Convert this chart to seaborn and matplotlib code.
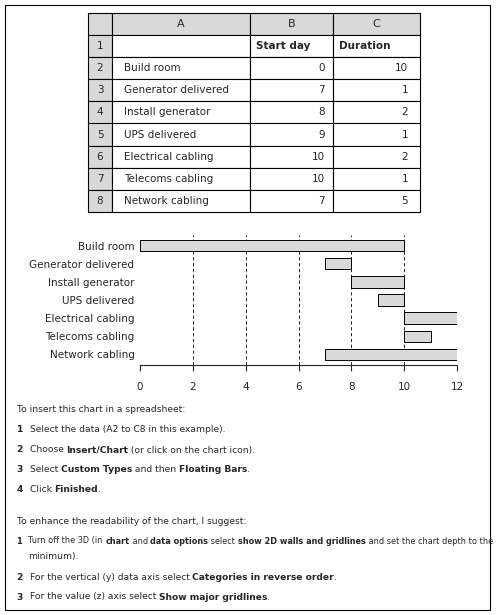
import matplotlib
matplotlib.use("Agg")
import matplotlib.pyplot as plt
import seaborn as sns
from matplotlib.patches import Rectangle

tasks = ["Build room", "Generator delivered", "Install generator", "UPS delivered",
         "Electrical cabling", "Telecoms cabling", "Network cabling"]
start = [0, 7, 8, 9, 10, 10, 7]
duration = [10, 1, 2, 1, 2, 1, 5]
col_headers = ["A", "B", "C"]
header_row = ["", "Start day", "Duration"]
xticks = [0, 2, 4, 6, 8, 10, 12]

sns.set_style("white")
plt.rcParams['font.family'] = ['DejaVu Sans']
W, H = 500, 615
fig = plt.figure(figsize=(5, 6.15), dpi=100)

def fx(px): return px / W
def fy(py): return 1 - py / H

fig.patches.append(Rectangle((fx(5), fy(610)), fx(490) - fx(5), fy(5) - fy(610),
                             transform=fig.transFigure, fill=False, lw=0.8, ec="black"))

# table: header + 8 rows
cols = [88, 112, 250, 333, 420]
rows = [13 + 22.1 * i for i in range(10)]
for r in range(9):
    for c in range(4):
        x0, x1 = cols[c], cols[c + 1]
        y0, y1 = rows[r], rows[r + 1]
        gray = (r == 0 or c == 0)
        fig.patches.append(Rectangle((fx(x0), fy(y1)), fx(x1) - fx(x0), fy(y0) - fy(y1),
                                     transform=fig.transFigure, fc="#d9d9d9" if gray else "white",
                                     ec="black", lw=0.8))
        yc = fy((y0 + y1) / 2)
        if r == 0:
            if c > 0:
                fig.text(fx((x0 + x1) / 2), yc, col_headers[c - 1], ha="center", va="center", fontsize=8)
        elif c == 0:
            fig.text(fx((x0 + x1) / 2), yc, str(r), ha="center", va="center", fontsize=7.5)
        elif r == 1:
            if c > 1:
                fig.text(fx(x0 + 6), yc, header_row[c - 1], ha="left", va="center", fontsize=7.5, fontweight="bold")
        else:
            i = r - 2
            if c == 1:
                fig.text(fx(x0 + 12), yc, tasks[i], ha="left", va="center", fontsize=7.5)
            elif c == 2:
                fig.text(fx(x1 - 8), yc, str(start[i]), ha="right", va="center", fontsize=7.5)
            else:
                fig.text(fx(x1 - 12), yc, str(duration[i]), ha="right", va="center", fontsize=7.5)

# chart
ax = fig.add_axes([fx(140), fy(365), fx(457) - fx(140), fy(235) - fy(365)])
ypos = list(range(len(tasks)))
ax.barh(ypos, duration, left=start, height=0.62, color="#d9d9d9", edgecolor="black", lw=0.7, zorder=3)
ax.set_ylim(len(tasks) - 0.4, -0.6)
ax.set_xlim(0, 12)
ax.set_yticks(ypos)
ax.set_yticklabels(tasks, fontsize=7.5)
ax.set_xticks(xticks)
ax.set_xticklabels([str(t) for t in xticks], fontsize=7.5)
for t in xticks[1:]:
    ax.axvline(t, color="black", ls=(0, (4, 3)), lw=0.6, zorder=1)
for s in ["top", "right", "left"]:
    ax.spines[s].set_visible(False)
ax.spines["bottom"].set_linewidth(0.8)
ax.tick_params(axis="x", direction="out", length=4, width=0.8, bottom=True, pad=8)
ax.tick_params(axis="y", length=0, pad=4)

fig.canvas.draw()
renderer = fig.canvas.get_renderer()
def rich(px, py, segs, fs=7):
    x = fx(px)
    for s, b in segs:
        t = fig.text(x, fy(py), s, fontsize=fs, fontweight="bold" if b else "normal", va="center", ha="left")
        bb = t.get_window_extent(renderer)
        x += bb.width / fig.bbox.width

lines = [
    (17, 410, [("To insert this chart in a spreadsheet:", False)], 6.6),
    (17, 430, [("1  ", True), ("Select the data (A2 to C8 in this example).", False)], 6.6),
    (17, 450, [("2  ", True), ("Choose ", False), ("Insert/Chart", True), (" (or click on the chart icon).", False)], 6.6),
    (17, 470, [("3  ", True), ("Select ", False), ("Custom Types", True), (" and then ", False), ("Floating Bars", True), (".", False)], 6.6),
    (17, 490, [("4  ", True), ("Click ", False), ("Finished", True), (".", False)], 6.6),
    (17, 522, [("To enhance the readability of the chart, I suggest:", False)], 6.6),
    (17, 541, [("1  ", True), ("Turn off the 3D (in ", False), ("chart", True), (" and ", False), ("data options", True),
               (" select ", False), ("show 2D walls and gridlines", True), (" and set the chart depth to the", False)], 5.9),
    (28, 557, [("minimum).", False)], 6.6),
    (17, 577, [("2  ", True), ("For the vertical (y) data axis select ", False), ("Categories in reverse order", True), (".", False)], 6.6),
    (17, 597, [("3  ", True), ("For the value (z) axis select ", False), ("Show major gridlines", True), (".", False)], 6.6),
]
for px, py, segs, fs in lines:
    rich(px, py, segs, fs=fs)

fig.savefig("out.png", dpi=100)
